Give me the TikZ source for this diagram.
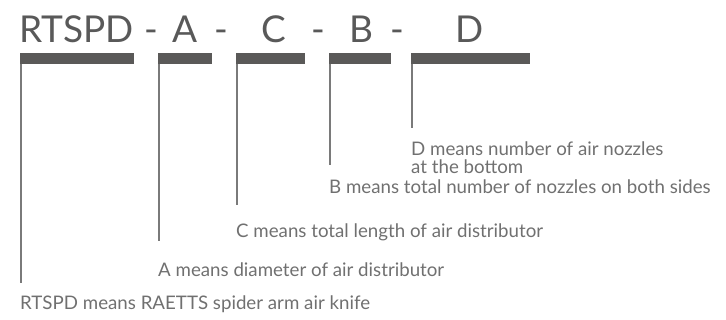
\documentclass[tikz,border=0pt]{standalone}
\usepackage{fontspec}
\setmainfont{Lato}
\definecolor{titlegray}{HTML}{595959}
\definecolor{bargray}{HTML}{5A5958}
\definecolor{linegray}{HTML}{7A7A7A}
\definecolor{textgray}{HTML}{707070}
\begin{document}
\begin{tikzpicture}[x=1pt,y=-1pt,
  bar/.style={fill=bargray, draw=none, inner sep=0pt, minimum height=11pt, rectangle},
  vline/.style={draw=linegray, line width=1.6pt},
  ttl/.style={text=titlegray, font=\fontsize{37}{37}\selectfont, inner sep=0pt, anchor=base west},
  desc/.style={text=textgray, font=\fontsize{18.7}{21}\selectfont, inner sep=0pt, anchor=base west}]
\useasboundingbox (0,0) rectangle (726,320);
% title
\node[ttl] (tR) at (19,43) {RTSPD};
\node[ttl] (d1) at (144,43) {-};
\node[ttl] (tA) at (172,43) {A};
\node[ttl] (d2) at (214,43) {-};
\node[ttl] (tC) at (261,43) {C};
\node[ttl] (d3) at (311,43) {-};
\node[ttl] (tB) at (349,43) {B};
\node[ttl] (d4) at (390,43) {-};
\node[ttl] (tD) at (455,43) {D};
% bars
\node[bar, minimum width=114pt, anchor=north west] (b1) at (20,53) {};
\node[bar, minimum width=54pt, anchor=north west] (b2) at (158,53) {};
\node[bar, minimum width=69pt, anchor=north west] (b3) at (236,53) {};
\node[bar, minimum width=62pt, anchor=north west] (b4) at (329,53) {};
\node[bar, minimum width=119pt, anchor=north west] (b5) at (411,53) {};
% line ends
\coordinate (e1) at (21,283);
\coordinate (e2) at (159,241);
\coordinate (e3) at (237,205);
\coordinate (e4) at (330,165);
\coordinate (e5) at (412,128);
\draw[vline] (b1.south west -| e1) -- (e1);
\draw[vline] (b2.south west -| e2) -- (e2);
\draw[vline] (b3.south west -| e3) -- (e3);
\draw[vline] (b4.south west -| e4) -- (e4);
\draw[vline] (b5.south west -| e5) -- (e5);
% descriptions
\node[desc] (tdD1) at (411,155.5) {D means number of air nozzles};
\node[desc] (tdD2) at (411,174) {at the bottom};
\node[desc] (tdB) at (329,193.5) {B means total number of nozzles on both sides};
\node[desc] (tdC) at (236,238) {C means total length of air distributor};
\node[desc] (tdA) at (158,277) {A means diameter of air distributor};
\node[desc] (tdR) at (20,310) {RTSPD means RAETTS spider arm air knife};
\end{tikzpicture}
\end{document}
